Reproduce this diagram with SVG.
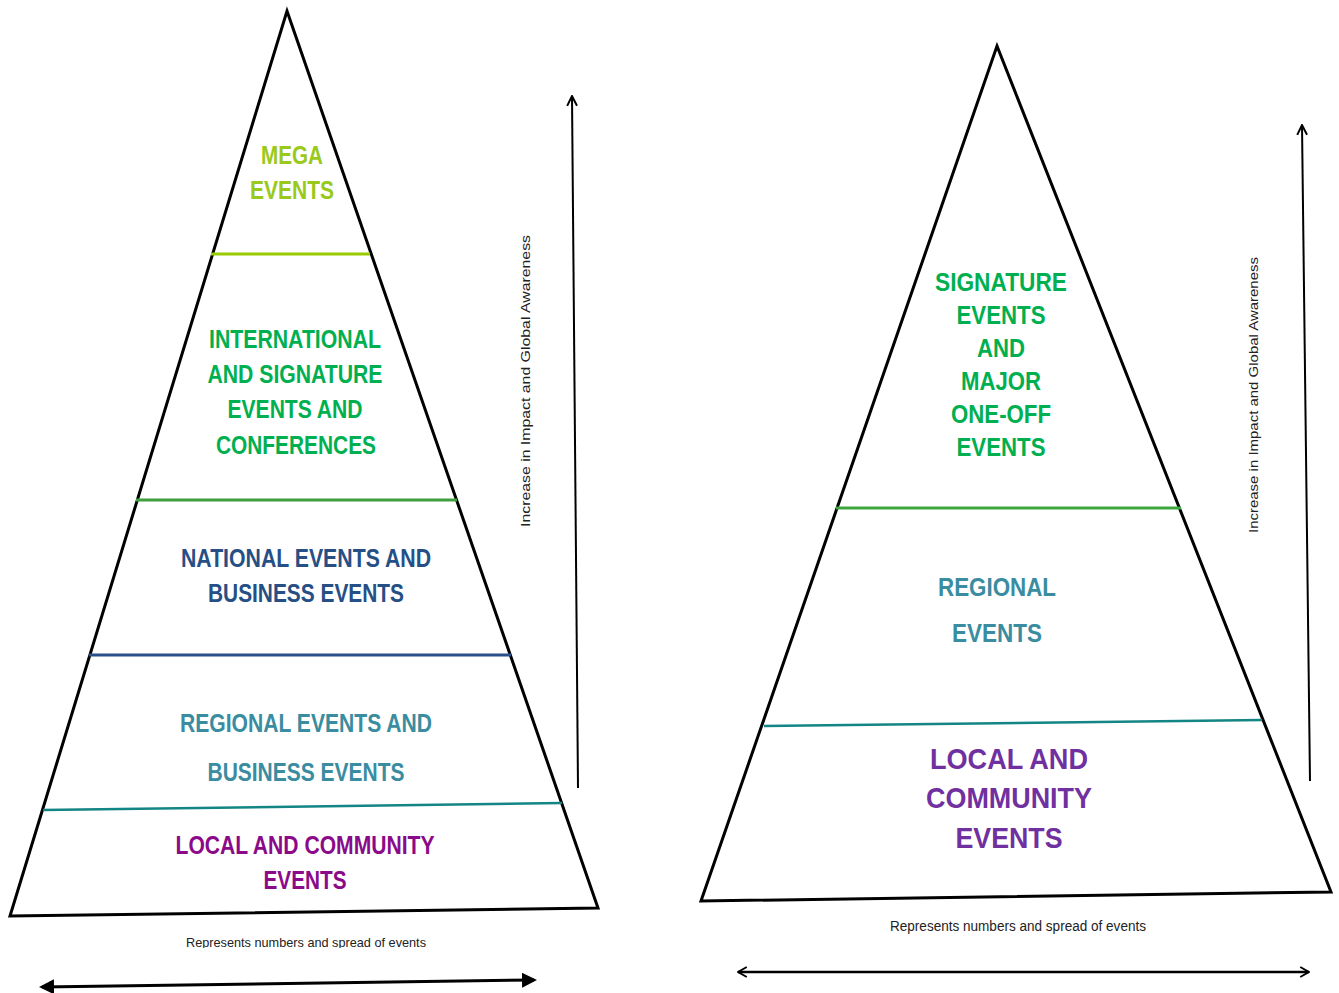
<svg xmlns="http://www.w3.org/2000/svg" width="1339" height="993" viewBox="0 0 1339 993">
<style>
.pyr{fill:none;stroke:#000;stroke-width:3;stroke-linejoin:miter}
.h{font-family:"Liberation Sans",Arial,sans-serif;font-weight:bold;text-anchor:middle}
.s{font-family:"Liberation Sans",Arial,sans-serif;fill:#222}
.ax{stroke:#000;fill:none}
</style>
<defs>
<marker id="fillhead" viewBox="0 0 10 10" refX="8" refY="5" markerWidth="5" markerHeight="5" orient="auto-start-reverse" markerUnits="strokeWidth"><path d="M0,0 L10,5 L0,10 z" fill="#000"/></marker>
<marker id="openhead" viewBox="0 0 10 10" refX="9" refY="5" markerWidth="5" markerHeight="5" orient="auto-start-reverse" markerUnits="strokeWidth"><path d="M2,1 L9,5 L2,9" fill="none" stroke="#000" stroke-width="1.6"/></marker>
<marker id="openhead2" viewBox="0 0 10 10" refX="9" refY="5" markerWidth="7" markerHeight="7" orient="auto-start-reverse" markerUnits="strokeWidth"><path d="M2,1.5 L9,5 L2,8.5" fill="none" stroke="#000" stroke-width="1.4"/></marker>
<clipPath id="clipL"><rect x="0" y="925" width="620" height="23"/></clipPath>
</defs>

<g id="left-pyramid">
<polygon class="pyr" points="287,11 598,908 10,916"/>
<line x1="211" y1="254" x2="370" y2="254" stroke="#99cc00" stroke-width="3"/>
<line x1="136" y1="500" x2="457" y2="500" stroke="#3f9f3f" stroke-width="3"/>
<line x1="89" y1="655" x2="511" y2="655" stroke="#2a4f8a" stroke-width="3"/>
<line x1="43" y1="810" x2="562" y2="803" stroke="#138585" stroke-width="2.5"/>
</g>
<g id="mega" class="h" font-size="25" fill="#99c91a">
<text x="292" y="164" textLength="62" lengthAdjust="spacingAndGlyphs">MEGA</text>
<text x="292" y="199" textLength="84" lengthAdjust="spacingAndGlyphs">EVENTS</text>
</g>
<g id="international" class="h" font-size="25" fill="#00b050">
<text x="295" y="348" textLength="172" lengthAdjust="spacingAndGlyphs">INTERNATIONAL</text>
<text x="295" y="383" textLength="175" lengthAdjust="spacingAndGlyphs">AND SIGNATURE</text>
<text x="295" y="418" textLength="135" lengthAdjust="spacingAndGlyphs">EVENTS AND</text>
<text x="296" y="454" textLength="160" lengthAdjust="spacingAndGlyphs">CONFERENCES</text>
</g>
<g id="national" class="h" font-size="25" fill="#264f86">
<text x="306" y="567" textLength="250" lengthAdjust="spacingAndGlyphs">NATIONAL EVENTS AND</text>
<text x="306" y="602" textLength="196" lengthAdjust="spacingAndGlyphs">BUSINESS EVENTS</text>
</g>
<g id="regional-left" class="h" font-size="25" fill="#3a8ca0">
<text x="306" y="732" textLength="252" lengthAdjust="spacingAndGlyphs">REGIONAL EVENTS AND</text>
<text x="306" y="781" textLength="197" lengthAdjust="spacingAndGlyphs">BUSINESS EVENTS</text>
</g>
<g id="local-left" class="h" font-size="25" fill="#8a0a8a">
<text x="305" y="854" textLength="259" lengthAdjust="spacingAndGlyphs">LOCAL AND COMMUNITY</text>
<text x="305" y="889" textLength="83" lengthAdjust="spacingAndGlyphs">EVENTS</text>
</g>
<g id="left-labels">
<text class="s" x="306" y="947" font-size="13" text-anchor="middle" textLength="240" lengthAdjust="spacingAndGlyphs" clip-path="url(#clipL)">Represents numbers and spread of events</text>
<text class="s" transform="translate(530,527) rotate(-90)" font-size="13" textLength="292" lengthAdjust="spacingAndGlyphs">Increase in Impact and Global Awareness</text>
</g>

<g id="right-pyramid">
<polygon class="pyr" points="997,46 1331,892 701,901"/>
<line x1="836" y1="508" x2="1181" y2="508" stroke="#3ea63e" stroke-width="3"/>
<line x1="764" y1="726" x2="1262" y2="720" stroke="#138585" stroke-width="2.5"/>
</g>
<g id="signature" class="h" font-size="25" fill="#00b050">
<text x="1001" y="291" textLength="132" lengthAdjust="spacingAndGlyphs">SIGNATURE</text>
<text x="1001" y="324" textLength="89" lengthAdjust="spacingAndGlyphs">EVENTS</text>
<text x="1001" y="357" textLength="48" lengthAdjust="spacingAndGlyphs">AND</text>
<text x="1001" y="390" textLength="80" lengthAdjust="spacingAndGlyphs">MAJOR</text>
<text x="1001" y="423" textLength="100" lengthAdjust="spacingAndGlyphs">ONE-OFF</text>
<text x="1001" y="456" textLength="89" lengthAdjust="spacingAndGlyphs">EVENTS</text>
</g>
<g id="regional-right" class="h" font-size="25" fill="#3a8ca0">
<text x="997" y="596" textLength="118" lengthAdjust="spacingAndGlyphs">REGIONAL</text>
<text x="997" y="642" textLength="90" lengthAdjust="spacingAndGlyphs">EVENTS</text>
</g>
<g id="local-right" class="h" font-size="30" fill="#7030a0">
<text x="1009" y="769" textLength="158" lengthAdjust="spacingAndGlyphs">LOCAL AND</text>
<text x="1009" y="808" textLength="166" lengthAdjust="spacingAndGlyphs">COMMUNITY</text>
<text x="1009" y="848" textLength="107" lengthAdjust="spacingAndGlyphs">EVENTS</text>
</g>
<g id="right-labels">
<text class="s" x="1018" y="931" font-size="14" text-anchor="middle" textLength="256" lengthAdjust="spacingAndGlyphs">Represents numbers and spread of events</text>
<text class="s" transform="translate(1258,533) rotate(-90)" font-size="13" textLength="276" lengthAdjust="spacingAndGlyphs">Increase in Impact and Global Awareness</text>
</g>

<g id="connectors">
<line class="ax" x1="578" y1="788" x2="572" y2="96" stroke-width="2" marker-end="url(#openhead2)"/>
<line class="ax" x1="1310" y1="781" x2="1302" y2="125" stroke-width="2" marker-end="url(#openhead2)"/>
<line class="ax" x1="42" y1="987" x2="534" y2="980" stroke-width="3" marker-start="url(#fillhead)" marker-end="url(#fillhead)"/>
<line class="ax" x1="738" y1="972" x2="1309" y2="972" stroke-width="2.5" marker-start="url(#openhead)" marker-end="url(#openhead)"/>
</g>
</svg>
